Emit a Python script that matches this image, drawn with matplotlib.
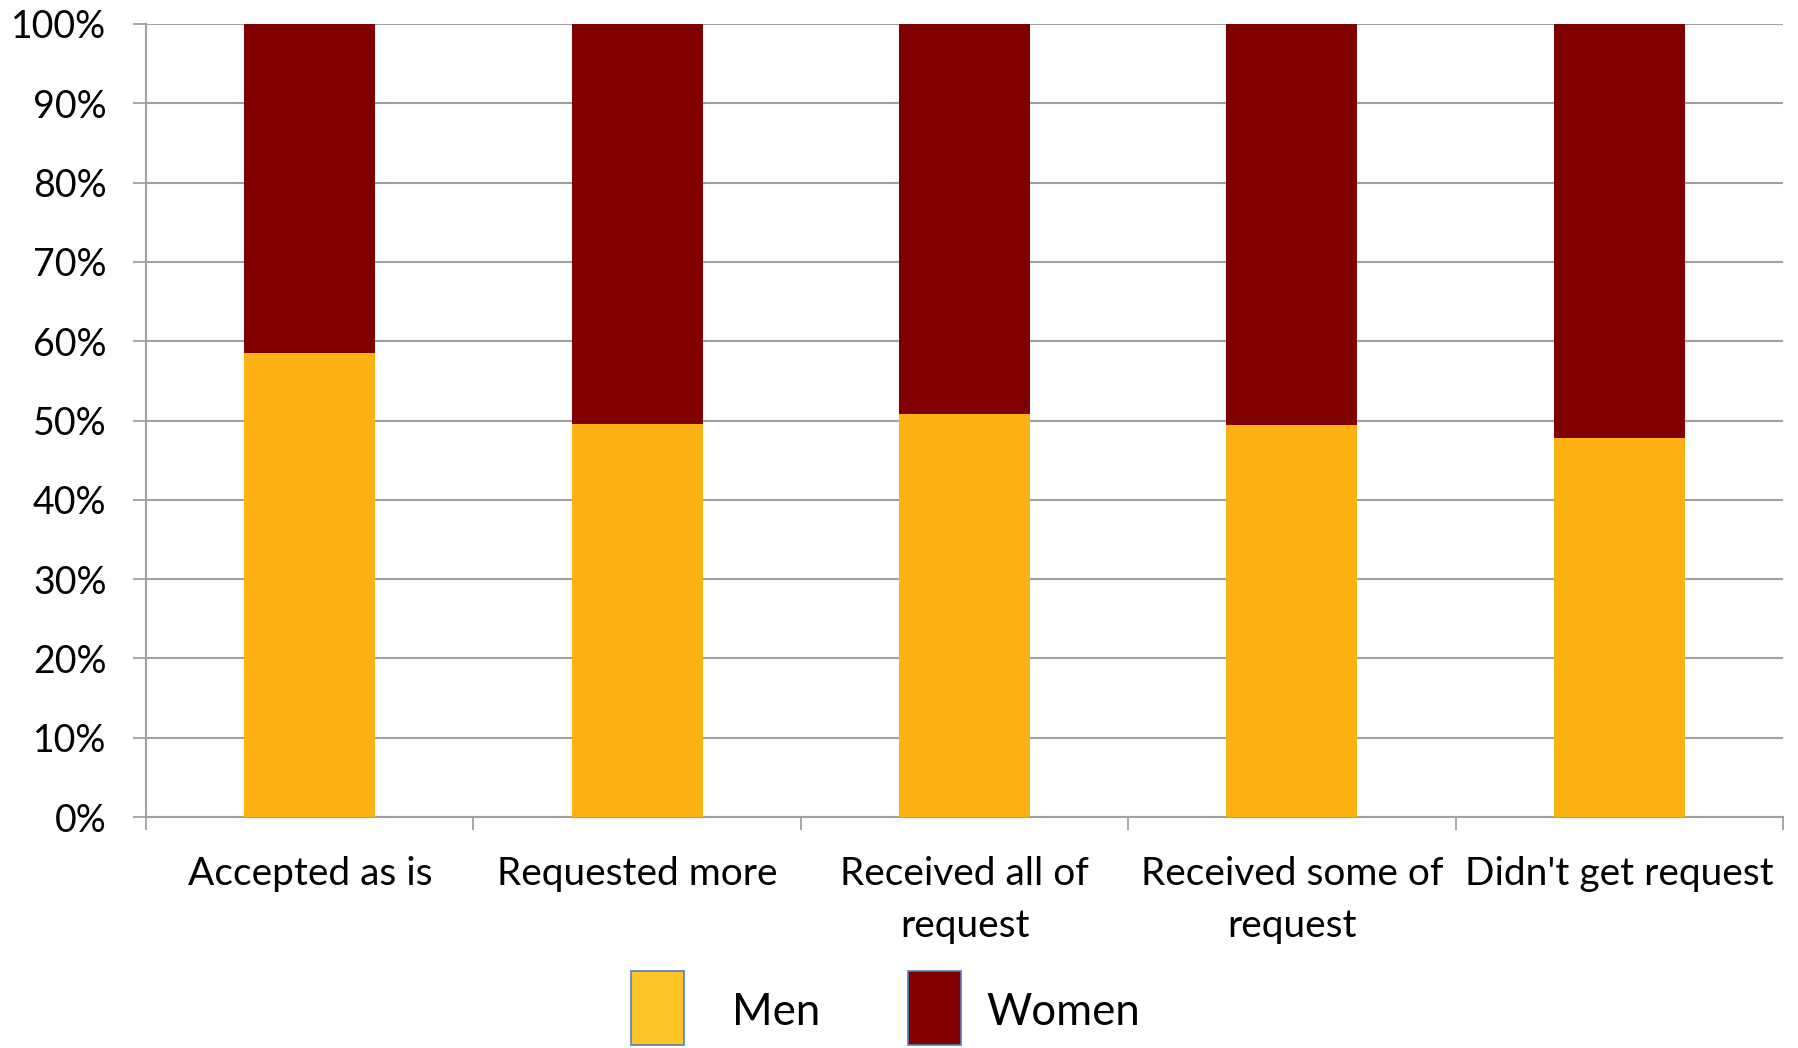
import matplotlib
matplotlib.use("Agg")
import matplotlib.pyplot as plt
from matplotlib.patches import Rectangle
from matplotlib.ticker import PercentFormatter, FixedLocator
import numpy as np

categories = ["Accepted as is", "Requested more", "Received all of\nrequest",
              "Received some of\nrequest", "Didn't get request"]
men = [58.5, 49.5, 50.8, 49.4, 47.8]
women = [100 - m for m in men]
series_names = ["Men", "Women"]
bar_colors = ["#FDB214", "#800000"]
legend_colors = ["#FFC425", "#800000"]

plt.rcParams["font.family"] = ["Lato", "DejaVu Sans"]

fig = plt.figure(figsize=(17.99, 10.48), dpi=100)
ax = fig.add_axes([0.0812, 0.2204, 0.9099, 0.7567])

x = np.arange(len(categories))
ax.bar(x, men, width=0.40, color=bar_colors[0], zorder=3)
ax.bar(x, women, width=0.40, bottom=men, color=bar_colors[1], zorder=3)

ax.set_xlim(-0.5, len(categories) - 0.5)
ax.set_ylim(0, 100)
ax.set_yticks(np.arange(0, 101, 10))
ax.yaxis.set_major_formatter(PercentFormatter(decimals=0))
ax.grid(axis="y", color="#A0A0A0", linewidth=1.5, zorder=0)

ax.set_xticks(x)
ax.set_xticklabels(categories, linespacing=1.55)
ax.xaxis.set_minor_locator(FixedLocator(np.arange(-0.5, len(categories), 1.0)))
ax.tick_params(axis="x", which="major", length=0, pad=28, labelsize=28)
ax.tick_params(axis="x", which="minor", length=9.5, width=1.3, color="#A0A0A0")
ax.tick_params(axis="y", length=9.5, width=1.3, color="#A0A0A0", pad=19, labelsize=27)

for side in ["top", "right"]:
    ax.spines[side].set_visible(False)
for side in ["left", "bottom"]:
    ax.spines[side].set_color("#A0A0A0")
    ax.spines[side].set_linewidth(1.5)

# Legend keys below the plot: tall swatches with labels to their right
key_x = [0.3508, 0.5047]
label_x = [0.4069, 0.5481]
for kx, lx, color, name in zip(key_x, label_x, legend_colors, series_names):
    fig.add_artist(Rectangle((kx, 0.0025), 0.0295, 0.071, transform=fig.transFigure,
                             facecolor=color, edgecolor="#4F81BD", linewidth=1.2))
    fig.text(lx, 0.022, name, fontsize=31.5, ha="left", va="baseline")

fig.savefig("out.png", dpi=100, facecolor="white")
